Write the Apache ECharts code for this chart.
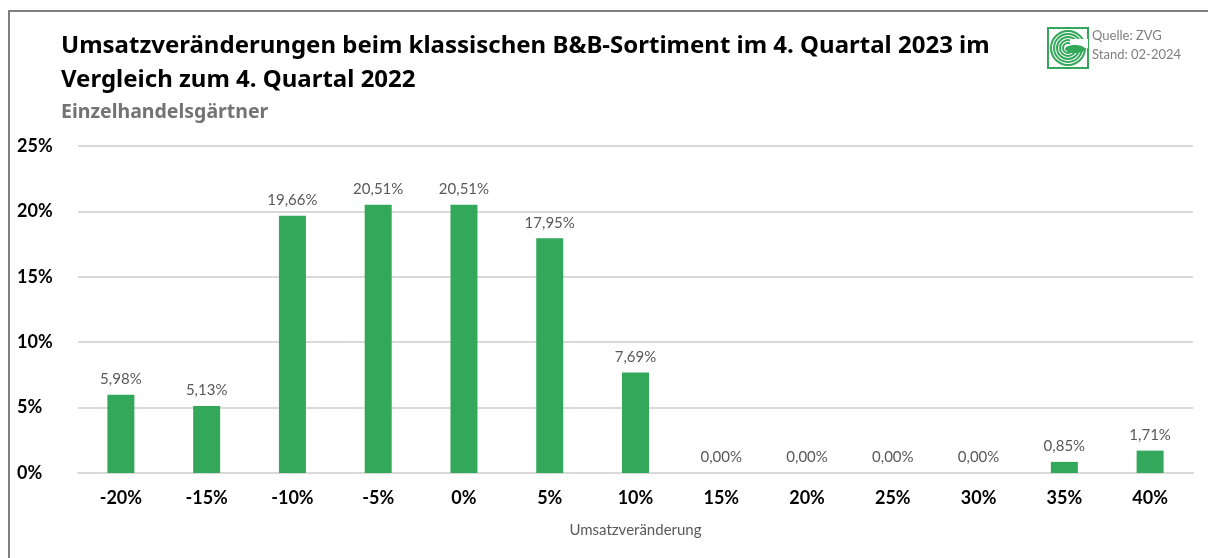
<!DOCTYPE html>
<html>
<head>
<meta charset="utf-8">
<script src="https://cdn.jsdelivr.net/npm/echarts@6/dist/echarts.min.js"></script>
<style>
  html, body { margin: 0; padding: 0; background: #fff; }
  #frame { position: absolute; left: 8px; top: 10px; width: 1300px; height: 700px;
           border-top: 2px solid #7f7f7f; border-left: 2px solid #7f7f7f; }
  #chart { position: absolute; left: 0; top: 0; width: 1208px; height: 558px; }
</style>
</head>
<body>
<div id="frame"></div>
<div id="chart"></div>
<script>
// Kategorien (Umsatzveränderung) und Anteile der Betriebe in %
const categories = ['-20%', '-15%', '-10%', '-5%', '0%', '5%', '10%', '15%', '20%', '25%', '30%', '35%', '40%']
const shares = [5.98, 5.13, 19.66, 20.51, 20.51, 17.95, 7.69, 0, 0, 0, 0, 0.85, 1.71]

const titleText = 'Umsatzveränderungen beim klassischen B&B-Sortiment im 4. Quartal 2023 im\nVergleich zum 4. Quartal 2022'
const subText = 'Einzelhandelsgärtner'

const font = 'Lato, "Noto Sans", sans-serif'
const titleFont = '"Noto Sans", sans-serif'
const green = '#34a85a'

const chart = echarts.init(document.getElementById('chart'))

// kleines Logo oben rechts (Ringe + Blatt)
const logoRings = [17, 14, 11, 8, 5].map(r => ({
  type: 'circle',
  shape: { cx: 20, cy: 20, r },
  style: { fill: 'none', stroke: green, lineWidth: 2 }
}))

const option = {
  animation: false,
  title: {
    text: titleText,
    subtext: subText,
    left: 56,
    top: 24,
    itemGap: 5,
    textStyle: { fontFamily: titleFont, fontSize: 24, fontWeight: 'bold', color: '#000', lineHeight: 34, letterSpacing: 0.25 },
    subtextStyle: { fontFamily: titleFont, fontSize: 19.5, fontWeight: 'bold', color: '#737373' }
  },
  grid: { left: 78, right: 15, top: 146, bottom: 85 },
  xAxis: {
    type: 'category',
    data: categories,
    axisLine: { lineStyle: { color: '#d9d9d9', width: 2 } },
    axisTick: { show: false },
    axisLabel: { fontFamily: font, fontSize: 18, fontWeight: 'bold', color: '#000', margin: 16 },
    name: 'Umsatzveränderung',
    nameLocation: 'middle',
    nameGap: 50,
    nameTextStyle: { fontFamily: font, fontSize: 15, color: '#595959' }
  },
  yAxis: {
    type: 'value',
    min: 0,
    max: 25,
    interval: 5,
    axisLine: { show: false },
    axisTick: { show: false },
    splitLine: { lineStyle: { color: '#d9d9d9', width: 2 } },
    axisLabel: {
      fontFamily: font, fontSize: 18, fontWeight: 'bold', color: '#000',
      align: 'left', margin: 61,
      formatter: v => v + '%'
    }
  },
  series: [
    {
      type: 'bar',
      data: shares,
      barWidth: 27,
      itemStyle: { color: green },
      label: {
        show: true,
        position: 'top',
        distance: 8,
        fontFamily: font,
        fontSize: 15,
        color: '#595959',
        formatter: p => p.value.toFixed(2).replace('.', ',') + '%'
      }
    }
  ],
  graphic: [
    {
      type: 'group',
      left: 1047,
      top: 27,
      children: [
        { type: 'rect', shape: { x: 0, y: 0, width: 40, height: 40 }, style: { fill: '#fff', stroke: green, lineWidth: 2 } },
        ...logoRings,
        { type: 'rect', shape: { x: 22, y: 11, width: 18, height: 9 }, style: { fill: '#fff' } },
        { type: 'ellipse', shape: { cx: 27, cy: 21, rx: 10, ry: 4 }, style: { fill: green } }
      ]
    },
    {
      type: 'text', left: 1092, top: 29,
      style: { text: 'Quelle: ZVG', font: '13px ' + font, fill: '#7f7f7f' }
    },
    {
      type: 'text', left: 1092, top: 48,
      style: { text: 'Stand: 02-2024', font: '13px ' + font, fill: '#7f7f7f' }
    }
  ]
}

chart.setOption(option)
window.addEventListener('resize', () => chart.resize())
</script>
</body>
</html>
